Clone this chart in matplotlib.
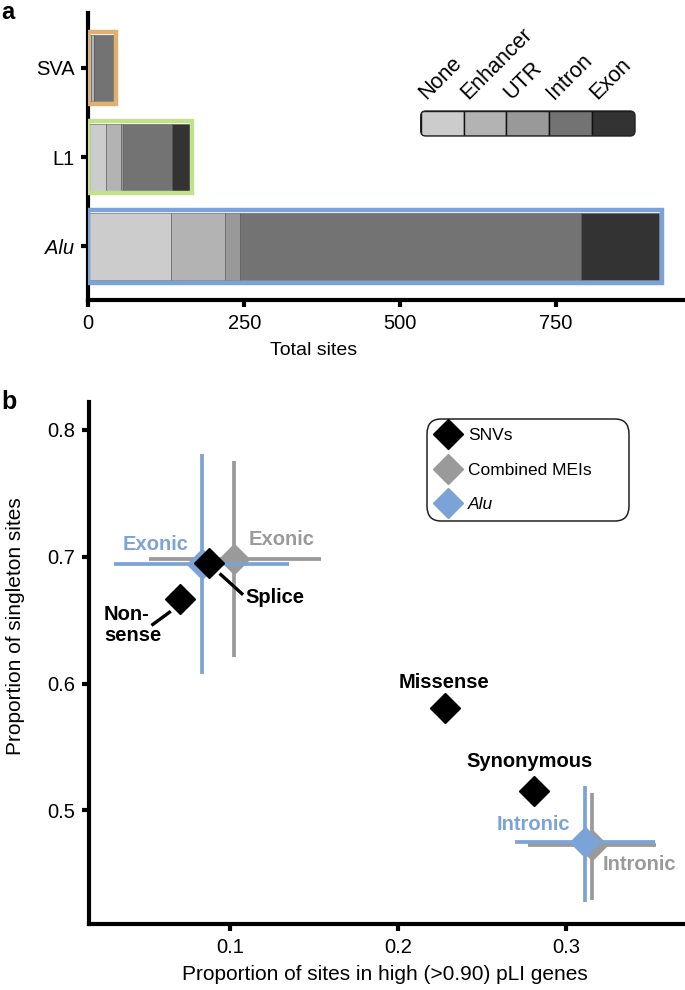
import numpy as np
import matplotlib
matplotlib.use('Agg')
import matplotlib.pyplot as plt
from matplotlib.lines import Line2D
from matplotlib.patches import FancyBboxPatch

plt.rcParams['font.family'] = ['Liberation Sans', 'DejaVu Sans']

# ---- panel a data ----
elements = ['SVA', 'L1', 'Alu']
regions = ['None', 'Enhancer', 'UTR', 'Intron', 'Exon']
region_colors = ['#cccccc', '#b3b3b3', '#999999', '#737373', '#333333']
sva_sites = [5, 4, 0, 32, 0]
l1_sites = [28, 24, 4, 78, 29]
alu_sites = [132, 87, 25, 546, 126]
box_colors = ['#dfb070', '#c3e08c', '#7ba3d7']
xticks_a = [0, 250, 500, 750]

# ---- panel b data ----
snv_labels = ['Non-\nsense', 'Splice', 'Missense', 'Synonymous']
snv_x = [0.0703, 0.0878, 0.2283, 0.2808]
snv_y = [0.6668, 0.6951, 0.5811, 0.5149]
mei_x = [0.1027, 0.3155]
mei_y = [0.6984, 0.4725]
mei_x_lo = [0.0519, 0.2773]
mei_x_hi = [0.1541, 0.3537]
mei_y_lo = [0.6212, 0.4293]
mei_y_hi = [0.7756, 0.5134]
alu_x = [0.0833, 0.3113]
alu_y = [0.6943, 0.4748]
alu_x_lo = [0.0310, 0.2696]
alu_x_hi = [0.1354, 0.3531]
alu_y_lo = [0.6073, 0.4277]
alu_y_hi = [0.7809, 0.5189]
xticks_b = [0.1, 0.2, 0.3]
yticks_b = [0.5, 0.6, 0.7, 0.8]

grey = '#9a9a9a'
blue = '#7ba3d7'
W, H = 685, 990

fig = plt.figure(figsize=(W / 100, H / 100), dpi=100)

# ================= panel a =================
ax1 = fig.add_axes([88.3 / W, 1 - 300 / H, (W - 88.3) / W, 287 / H])
counts = np.array([sva_sites, l1_sites, alu_sites], dtype=float)
ypos = np.array([2, 1, 0])
lefts = np.zeros(3)
for j in range(len(regions)):
    ax1.barh(ypos, counts[:, j], left=lefts, height=0.75,
             color=region_colors[j], edgecolor='#555555', linewidth=0.4)
    lefts += counts[:, j]
for i in range(3):
    ax1.barh(ypos[i], lefts[i] + 4, height=0.81, fill=False,
             edgecolor=box_colors[i], linewidth=3.2, zorder=3)

ax1.set_xlim(0, 956.9)
ax1.set_ylim(-0.6, 2.616)
ax1.set_yticks(ypos)
ax1.set_yticklabels(elements)
ax1.get_yticklabels()[2].set_fontstyle('italic')
ax1.set_xticks(xticks_a)
ax1.set_xlabel('Total sites', fontsize=14)
ax1.xaxis.set_label_coords(0.378, -0.146)

# colour key
axk = fig.add_axes([420.7 / W, 1 - 136 / H, 214.3 / W, 25 / H])
axk.set_xlim(0, 5)
axk.set_ylim(0, 1)
axk.axis('off')
frame = FancyBboxPatch((4.207, (H - 136) / 100), 2.143, 0.25,
                       boxstyle='round,pad=0,rounding_size=0.05',
                       transform=fig.dpi_scale_trans, facecolor='none',
                       edgecolor='#222222', linewidth=1.0, zorder=5)
fig.patches.append(frame)
cells = axk.bar(np.arange(5), 1, width=1, align='edge', color=region_colors,
                edgecolor='#111111', linewidth=1.0)
for c in cells:
    c.set_clip_path(frame)
for i, name in enumerate(regions):
    axk.text(i + 0.12, 1.42, name, rotation=45, rotation_mode='anchor',
             ha='left', va='baseline', fontsize=15.5)

# ================= panel b =================
ax2 = fig.add_axes([89 / W, 1 - 924 / H, 596 / W, 522 / H])
ax2.errorbar(mei_x, mei_y,
             xerr=[np.subtract(mei_x, mei_x_lo), np.subtract(mei_x_hi, mei_x)],
             yerr=[np.subtract(mei_y, mei_y_lo), np.subtract(mei_y_hi, mei_y)],
             fmt='D', ms=14.8, color=grey, mec=grey, elinewidth=2.7,
             capsize=0, zorder=2)
ax2.errorbar(alu_x, alu_y,
             xerr=[np.subtract(alu_x, alu_x_lo), np.subtract(alu_x_hi, alu_x)],
             yerr=[np.subtract(alu_y, alu_y_lo), np.subtract(alu_y_hi, alu_y)],
             fmt='D', ms=14.8, color=blue, mec=blue, elinewidth=2.7,
             capsize=0, zorder=3)
ax2.plot(snv_x, snv_y, 'D', ms=14.8, color='black', mec='black', zorder=5)

# leader lines
ax2.plot([0.0946, 0.1071], [0.6859, 0.6709], color='black', lw=2.4, zorder=4)
ax2.plot([0.0541, 0.0640], [0.6466, 0.6562], color='black', lw=2.4, zorder=4)

bold = dict(fontsize=14.5, fontweight='bold')
ax2.text(0.0250, 0.6462, snv_labels[0], ha='left', va='center',
         linespacing=1.15, **bold)
ax2.text(0.1092, 0.6676, snv_labels[1], ha='left', va='center', **bold)
ax2.text(0.2272, 0.6008, snv_labels[2], ha='center', va='center', **bold)
ax2.text(0.2784, 0.5385, snv_labels[3], ha='center', va='center', **bold)
ax2.text(0.0555, 0.7094, 'Exonic', ha='center', va='center', color=blue, **bold)
ax2.text(0.1309, 0.7134, 'Exonic', ha='center', va='center', color=grey, **bold)
ax2.text(0.2808, 0.4890, 'Intronic', ha='center', va='center', color=blue, **bold)
ax2.text(0.3440, 0.4576, 'Intronic', ha='center', va='center', color=grey, **bold)

ax2.set_xlim(0.0161, 0.371)
ax2.set_ylim(0.4104, 0.822)
ax2.set_xticks(xticks_b)
ax2.set_yticks(yticks_b)
ax2.set_xlabel('Proportion of sites in high (>0.90) pLI genes', fontsize=15)
ax2.set_ylabel('Proportion of singleton sites', fontsize=15)
ax2.xaxis.set_label_coords(0.496, -0.079)
ax2.yaxis.set_label_coords(-0.107, 0.571)

handles = [Line2D([], [], marker='D', ls='', ms=14.8, color=c, mec=c)
           for c in ['black', grey, blue]]
leg = ax2.legend(handles, ['SNVs', 'Combined MEIs', 'Alu'], loc='upper left',
                 bbox_to_anchor=(0.5666, 0.736, 0.34, 0.231), mode='expand',
                 borderaxespad=0, fontsize=12.5, frameon=True, fancybox=True,
                 handlelength=1.4, borderpad=0.52, handletextpad=0.45,
                 labelspacing=1.1)
leg.get_texts()[2].set_fontstyle('italic')
fr = leg.get_frame()
fr.set_boxstyle('round,pad=0,rounding_size=0.85')
fr.set_edgecolor('#222222')
fr.set_linewidth(1.1)
fr.set_alpha(None)

for ax in (ax1, ax2):
    for s in ('top', 'right'):
        ax.spines[s].set_visible(False)
    for s in ('left', 'bottom'):
        ax.spines[s].set_linewidth(3)
    ax.tick_params(width=3, length=5, labelsize=14.5, pad=5)

fig.text(0.002, 0.999, 'a', fontsize=17, fontweight='bold', va='top')
fig.text(0.002, 1 - 409 / H, 'b', fontsize=18, fontweight='bold', va='baseline')

fig.savefig('out.png', dpi=100)
